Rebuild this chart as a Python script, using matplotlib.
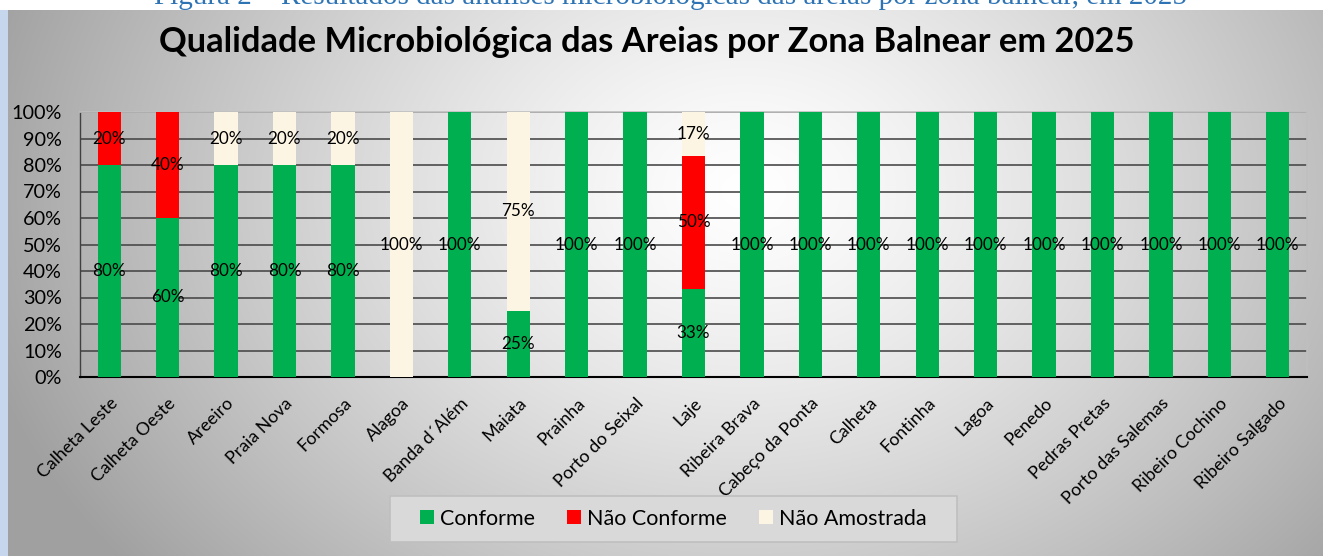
import numpy as np
import matplotlib
matplotlib.use("Agg")
import matplotlib.pyplot as plt
from matplotlib.patches import Rectangle

categories = ["Calheta Leste", "Calheta Oeste", "Areeiro", "Praia Nova", "Formosa",
              "Alagoa", "Banda d´Além", "Maiata", "Prainha", "Porto do Seixal", "Laje",
              "Ribeira Brava", "Cabeço da Ponta", "Calheta", "Fontinha", "Lagoa",
              "Penedo", "Pedras Pretas", "Porto das Salemas", "Ribeiro Cochino",
              "Ribeiro Salgado"]
conforme = [80, 60, 80, 80, 80, 0, 100, 25, 100, 100, 33.33, 100, 100, 100, 100, 100,
            100, 100, 100, 100, 100]
nao_conforme = [20, 40, 0, 0, 0, 0, 0, 0, 0, 0, 50, 0, 0, 0, 0, 0, 0, 0, 0, 0, 0]
nao_amostrada = [0, 0, 20, 20, 20, 100, 0, 75, 0, 0, 16.67, 0, 0, 0, 0, 0, 0, 0, 0, 0, 0]
series_names = ["Conforme", "Não Conforme", "Não Amostrada"]
yticks = [0, 10, 20, 30, 40, 50, 60, 70, 80, 90, 100]

colors = ["#00b050", "#ff0000", "#fdf5e4"]
FONT = "Lato"

W, H = 1323, 556
fig = plt.figure(figsize=(W / 100, H / 100), dpi=100)
fig.patch.set_facecolor("white")

# gradient background for chart area
bx0, by_top = 8, 10
bg = fig.add_axes([bx0 / W, 0, 1 - bx0 / W, 1 - by_top / H], zorder=-10)
ny, nx = 300, 700
yy, xx = np.mgrid[0:ny, 0:nx]
cx, cy = 0.56 * nx, 0.33 * ny
d = np.sqrt(((xx - cx) / (nx * 0.60)) ** 2 + ((yy - cy) / (ny * 1.1)) ** 2)
d = np.clip(d, 0, 1)
val = 1.0 - 0.37 * d ** 1.3
img = np.dstack([val, val, val])
bg.imshow(img, aspect="auto", extent=[0, 1, 0, 1], origin="upper")
bg.set_axis_off()
fig.patches.append(Rectangle((0, 0), bx0 / W, 1 - by_top / H, transform=fig.transFigure,
                             facecolor="#c6d6ec", edgecolor="none", zorder=-20))

# caption (partially cut, as in the source)
fig.text(670 / W, 1 - 4 / H, "Figura 2 – Resultados das análises microbiológicas das areias por zona balnear, em 2025",
         ha="center", va="baseline", fontsize=21, color="#2e74b5", family="Liberation Serif",
         zorder=-30)

# title
fig.text(647 / W, 1 - 42 / H, "Qualidade Microbiológica das Areias por Zona Balnear em 2025",
         ha="center", va="center", fontsize=24.8, fontweight="bold", family=FONT, color="black")

L, R, T, B = 80, 1307, 112, 377
ax = fig.add_axes([L / W, 1 - B / H, (R - L) / W, (B - T) / H])
ax.set_facecolor("none")
x = np.arange(len(categories))
bottom = np.zeros(len(categories))
for vals, name, c in zip([conforme, nao_conforme, nao_amostrada], series_names, colors):
    vals = np.array(vals, dtype=float)
    bars = ax.bar(x, vals, 0.4, bottom=bottom, color=c, label=name, zorder=3)
    labels = [f"{v:.0f}%" if v > 0 else "" for v in vals]
    ax.bar_label(bars, labels=labels, label_type="center", fontsize=12.3, family=FONT,
                 color="black", zorder=5)
    bottom += vals

ax.set_xlim(-0.5, len(categories) - 0.5)
ax.set_ylim(0, 100)
ax.set_yticks(yticks)
ax.set_yticklabels([f"{t}%" for t in yticks], fontsize=14.3, family=FONT)
ax.set_xticks(x)
ax.set_xticklabels(categories, rotation=45, ha="right", rotation_mode="anchor",
                   fontsize=12.8, family=FONT)
ax.tick_params(axis="y", length=0, pad=13)
ax.tick_params(axis="x", length=0, pad=13)
ax.yaxis.grid(True, color="#4a4a4a", linewidth=1.2, zorder=1)
ax.set_axisbelow(True)
for s in ["top", "right"]:
    ax.spines[s].set_color("#bfbfbf")
    ax.spines[s].set_linewidth(1.2)
ax.spines["bottom"].set_color("black")
ax.spines["bottom"].set_linewidth(1.5)
ax.spines["left"].set_color("#404040")
ax.spines["left"].set_linewidth(1.0)

# legend box
lx0, lx1, ly0, ly1 = 390, 957, 496, 542
fig.patches.append(Rectangle((lx0 / W, 1 - ly1 / H), (lx1 - lx0) / W, (ly1 - ly0) / H,
                             transform=fig.transFigure, facecolor="#d9d9d9",
                             edgecolor="#bfbfbf", linewidth=1.2, zorder=1))
leg = fig.legend(loc="center", bbox_to_anchor=((lx0 + lx1) / 2 / W, 1 - (ly0 + ly1) / 2 / H),
                 ncol=3, prop={"family": FONT, "size": 15.5}, frameon=False,
                 handlelength=0.62, handleheight=0.62, handletextpad=0.3, columnspacing=1.5,
                 borderpad=0.3)
leg.set_zorder(5)

fig.savefig("out.png", dpi=100)
